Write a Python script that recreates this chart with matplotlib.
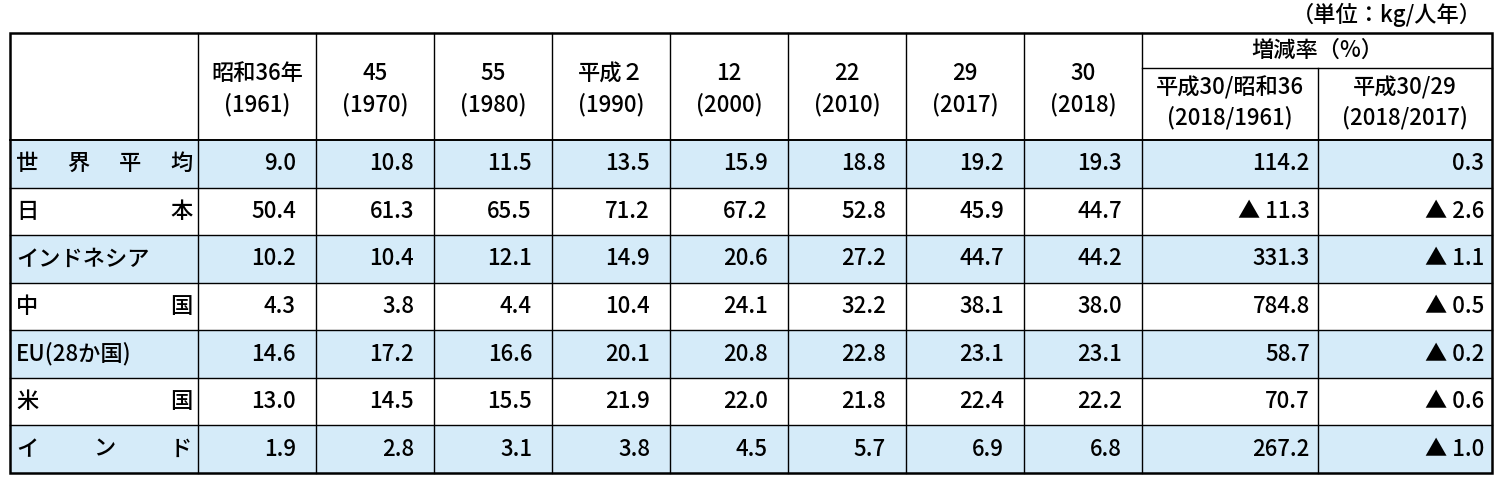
import matplotlib
matplotlib.use('Agg')
import matplotlib.pyplot as plt
from matplotlib.patches import Rectangle

plt.rcParams['font.family'] = 'Noto Sans CJK JP'

countries = ['世界平均', '日本', 'インドネシア', '中国', 'EU(28か国)', '米国', 'インド']
years = [('昭和36年', '(1961)'), ('45', '(1970)'), ('55', '(1980)'), ('平成２', '(1990)'),
         ('12', '(2000)'), ('22', '(2010)'), ('29', '(2017)'), ('30', '(2018)')]
rate_heads = [('平成30/昭和36', '(2018/1961)'), ('平成30/29', '(2018/2017)')]
values = [
    [9.0, 10.8, 11.5, 13.5, 15.9, 18.8, 19.2, 19.3],
    [50.4, 61.3, 65.5, 71.2, 67.2, 52.8, 45.9, 44.7],
    [10.2, 10.4, 12.1, 14.9, 20.6, 27.2, 44.7, 44.2],
    [4.3, 3.8, 4.4, 10.4, 24.1, 32.2, 38.1, 38.0],
    [14.6, 17.2, 16.6, 20.1, 20.8, 22.8, 23.1, 23.1],
    [13.0, 14.5, 15.5, 21.9, 22.0, 21.8, 22.4, 22.2],
    [1.9, 2.8, 3.1, 3.8, 4.5, 5.7, 6.9, 6.8],
]
rate_long = [114.2, -11.3, 331.3, 784.8, 58.7, 70.7, 267.2]
rate_short = [0.3, -2.6, -1.1, -0.5, -0.2, -0.6, -1.0]

fig = plt.figure(figsize=(15, 4.82), dpi=100)
ax = fig.add_axes([0, 0, 1, 1])
ax.set_xlim(0, 1500)
ax.set_ylim(482, 0)
ax.axis('off')

xs = [10, 198] + [198 + 118 * (i + 1) for i in range(8)] + [1318, 1492]
top, head_mid, head_bot = 33, 68, 140
rh = (473 - head_bot) / 7
ys = [head_bot + rh * i for i in range(8)]
blue = '#d5ebf9'
fs = 16
fw = 'medium'

for i in range(7):
    if i % 2 == 0:
        ax.add_patch(Rectangle((xs[0], ys[i]), xs[-1] - xs[0], rh, color=blue, lw=0))

lw = 1.0
ax.add_patch(Rectangle((xs[0], top), xs[-1] - xs[0], ys[-1] - top, fill=False, lw=1.8, ec='black'))
for x in xs[1:-1]:
    y0 = head_mid if x == 1318 else top
    ax.plot([x, x], [y0, ys[-1]], color='black', lw=lw)
ax.plot([xs[-3], xs[-1]], [head_mid, head_mid], color='black', lw=lw)
for y in ys[:-1]:
    ax.plot([xs[0], xs[-1]], [y, y], color='black', lw=1.4 if y == ys[0] else lw)

def fmt(v):
    return ('▲ ' if v < 0 else '') + '%.1f' % abs(v)

def txt(x, y, s, ha):
    ax.text(x, y, s, ha=ha, va='center', fontsize=fs, fontweight=fw)

# header
for j, (a, b) in enumerate(years):
    cx = (xs[j + 1] + xs[j + 2]) / 2
    txt(cx, 74, a, 'center')
    txt(cx, 105, b, 'center')
txt((xs[-3] + xs[-1]) / 2, 50, '増減率（%）', 'center')
for j, (a, b) in enumerate(rate_heads):
    cx = (xs[-3 + j] + xs[-2 + j]) / 2
    txt(cx, 88, a, 'center')
    txt(cx, 118, b, 'center')
txt(1482, 15, '（単位：kg/人年）', 'right')

for i, name in enumerate(countries):
    cy = ys[i] + rh / 2
    if len(name) >= 6:
        txt(16, cy, name, 'left')
    else:
        n = len(name)
        for k, ch in enumerate(name):
            txt(16 + (190 - 16 - 20) * k / (n - 1), cy, ch, 'left')
    for j, v in enumerate(values[i]):
        txt(xs[j + 2] - 20, cy, fmt(v), 'right')
    txt(xs[-2] - 8, cy, fmt(rate_long[i]), 'right')
    txt(xs[-1] - 8, cy, fmt(rate_short[i]), 'right')

fig.savefig('out.png', dpi=100)
